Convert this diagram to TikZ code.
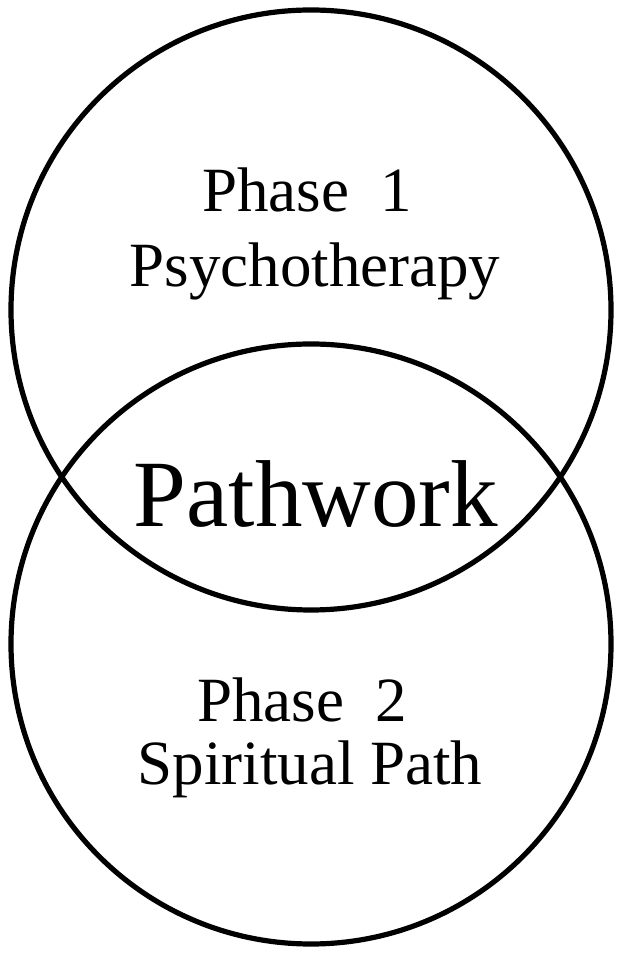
\documentclass[tikz,border=0pt]{standalone}
\usepackage{fontspec}
\setmainfont{Liberation Serif}
\usepackage{tikz}
\tikzset{
  ring/.style={line width=5.2pt},
  phasetext/.style={anchor=base, inner sep=0pt, font=\fontsize{63}{75}\selectfont},
  bigtext/.style={anchor=base, inner sep=0pt, font=\fontsize{95}{104}\selectfont}
}

\begin{document}
\begin{tikzpicture}[x=1pt, y=1pt]
			%%%%% START %%%%%
			\useasboundingbox (0, 0) rectangle (621, 953);
			
			\draw[ring] (311, 643) circle (300);
			\draw[ring] (311, 309) circle (300);
			
			\node[phasetext] (phaseone) at (307, 741) {Phase\ \ 1};
			\node[phasetext] (psycho) at (315, 666) {Psychotherapy};
			
			\node[bigtext] (pathwork) at (316, 426) {Pathwork};
			
			\node[phasetext] (phasetwo) at (302, 231) {Phase\ \ 2};
			\node[phasetext] (spirit) at (310, 168) {Spiritual Path};
			
			%%%%% END %%%%%
\end{tikzpicture}
\end{document}
